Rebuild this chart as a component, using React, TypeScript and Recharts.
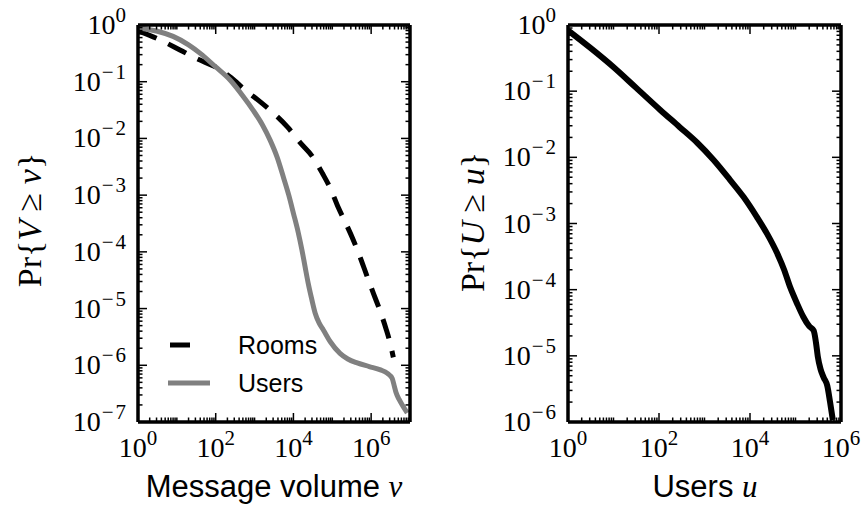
import React from 'react';
import { LineChart, Line, XAxis, YAxis } from 'recharts';

// Left panel: message volume CCDF
const roomsVolume = [1, 3.16, 12, 31.6, 110, 251, 575, 1259, 3020, 7080, 15100, 31600, 56200, 89100, 141000, 224000, 347000, 525000, 794000, 1.17e6, 1.74e6, 2.4e6, 3.09e6, 3.72e6];
const roomsProb = [0.79, 0.575, 0.363, 0.257, 0.174, 0.1175, 0.0708, 0.0468, 0.0282, 0.0158, 0.00832, 0.00468, 0.0024, 0.00132, 6.17e-4, 3.16e-4, 1.62e-4, 7.94e-5, 3.63e-5, 1.78e-5, 8.7e-6, 4.47e-6, 2.45e-6, 1.38e-6];

const usersVolume = [1, 3.16, 8, 20, 40, 100, 234, 500, 912, 1585, 2512, 3800, 5500, 7590, 10000, 13200, 16600, 20000, 24000, 29500, 36300, 45700, 58900, 89000, 158000, 251000, 437000, 891000, 1.74e6, 2.63e6, 3.47e6, 3.98e6, 4.37e6, 5.25e6, 6.6e6, 8.5e6];
const usersProb = [0.89, 0.776, 0.63, 0.447, 0.316, 0.182, 0.107, 0.056, 0.0316, 0.0174, 0.00933, 0.00468, 0.00209, 0.001, 4.79e-4, 2.24e-4, 1.07e-4, 5.4e-5, 2.8e-5, 1.48e-5, 8.3e-6, 5.6e-6, 4.2e-6, 2.6e-6, 1.62e-6, 1.29e-6, 1.1e-6, 9.5e-7, 8.3e-7, 7.2e-7, 5.9e-7, 4.2e-7, 3.3e-7, 2.5e-7, 1.9e-7, 1.45e-7];

// Right panel: users CCDF
const roomUsers = [1, 3.16, 9.8, 31.6, 105, 282, 692, 1585, 3630, 7240, 14100, 24000, 38900, 56200, 75900, 107000, 148000, 200000, 251000, 282000, 309000, 355000, 417000, 501000, 575000, 661000];
const roomUsersProb = [0.83, 0.447, 0.234, 0.112, 0.0525, 0.0288, 0.0166, 0.0091, 0.00457, 0.00251, 0.00126, 6.9e-4, 3.63e-4, 2.0e-4, 1.1e-4, 6.3e-5, 3.9e-5, 2.8e-5, 2.4e-5, 1.58e-5, 9.8e-6, 6.3e-6, 4.7e-6, 3.5e-6, 2.0e-6, 1.07e-6];

const zip = (xs: number[], ys: number[]) => xs.map((x, i) => ({ x, p: ys[i] }));
const roomsData = zip(roomsVolume, roomsProb);
const usersData = zip(usersVolume, usersProb);
const roomUsersData = zip(roomUsers, roomUsersProb);

// log ticks: 1..9 x 10^e for every decade in range
function logTicks(lo: number, hi: number) {
  const t: number[] = [];
  for (let e = lo; e < hi; e++) for (let s = 1; s < 10; s++) t.push(s * Math.pow(10, e));
  t.push(Math.pow(10, hi));
  return t;
}
const leftXTicks = logTicks(0, 7);
const leftYTicks = logTicks(-7, 0);
const rightXTicks = logTicks(0, 6);
const rightYTicks = logTicks(-6, 0);

const decadeOf = (v: number) => {
  const l = Math.log10(v);
  const r = Math.round(l);
  return Math.abs(l - r) < 1e-6 ? r : null;
};

const SERIF = '"Liberation Serif", "DejaVu Serif", serif';
const SANS = '"Liberation Sans", Arial, sans-serif';
const MAJ = 9;
const MIN = 4.5;
const TW = 1.5;

const Pow = ({ x, y, e, anchor }: any) => (
  <text x={x} y={y} textAnchor={anchor} fontFamily={SERIF} fontSize={28} fill="#000">
    <tspan>10</tspan>
    {e < 0 ? (
      <>
        <tspan dy={-12} dx={1} fontSize={21}>{'\u2212'}</tspan>
        <tspan dx={2} fontSize={21}>{Math.abs(e)}</tspan>
      </>
    ) : (
      <tspan dy={-12} fontSize={21}>{e}</tspan>
    )}
  </text>
);

const BottomTick = (props: any) => {
  const { x, y, payload, everyOther } = props;
  const d = decadeOf(payload.value);
  const major = d !== null && (!everyOther || d % 2 === 0);
  return (
    <g>
      <line x1={x} x2={x} y1={y} y2={y - (major ? MAJ : MIN)} stroke="#000" strokeWidth={TW} />
      {major && <Pow x={x} y={y + 35} e={d} anchor="middle" />}
    </g>
  );
};

const TopTick = (props: any) => {
  const { x, y, payload, everyOther } = props;
  const d = decadeOf(payload.value);
  const major = d !== null && (!everyOther || d % 2 === 0);
  return <line x1={x} x2={x} y1={y} y2={y + (major ? MAJ : MIN)} stroke="#000" strokeWidth={TW} />;
};

const LeftTick = (props: any) => {
  const { x, y, payload } = props;
  const d = decadeOf(payload.value);
  const major = d !== null;
  return (
    <g>
      <line x1={x} x2={x + (major ? MAJ : MIN)} y1={y} y2={y} stroke="#000" strokeWidth={TW} />
      {major && <Pow x={x - 12} y={y + 9} e={d} anchor="end" />}
    </g>
  );
};

const RightTick = (props: any) => {
  const { x, y, payload } = props;
  const major = decadeOf(payload.value) !== null;
  return <line x1={x} x2={x - (major ? MAJ : MIN)} y1={y} y2={y} stroke="#000" strokeWidth={TW} />;
};

const spine = { stroke: '#000', strokeWidth: 3.5 };

function Panel({ width, margin, xDomain, yDomain, xTicks, yTicks, everyOther, children }: any) {
  return (
    <LineChart width={width} height={514} margin={margin}>
      <XAxis xAxisId="b" dataKey="x" type="number" scale="log" domain={xDomain} allowDataOverflow
        ticks={xTicks} interval={0} tickSize={0} tickMargin={0} tickLine={false} height={40}
        axisLine={spine} tick={<BottomTick everyOther={everyOther} />} />
      <XAxis xAxisId="t" orientation="top" dataKey="x" type="number" scale="log" domain={xDomain} allowDataOverflow
        ticks={xTicks} interval={0} tickSize={0} tickMargin={0} tickLine={false} height={5}
        axisLine={spine} tick={<TopTick everyOther={everyOther} />} />
      <YAxis yAxisId="l" dataKey="p" type="number" scale="log" domain={yDomain} allowDataOverflow
        ticks={yTicks} interval={0} tickSize={0} tickMargin={0} tickLine={false} width={60}
        axisLine={spine} tick={<LeftTick />} />
      <YAxis yAxisId="r" orientation="right" dataKey="p" type="number" scale="log" domain={yDomain} allowDataOverflow
        ticks={yTicks} interval={0} tickSize={0} tickMargin={0} tickLine={false} width={5}
        axisLine={spine} tick={<RightTick />} />
      {children}
    </LineChart>
  );
}

const Math_ = ({ children }: any) => <span style={{ fontFamily: SERIF, fontStyle: 'italic' }}>{children}</span>;

export default function App() {
  return (
    <div style={{ position: 'absolute', left: 0, top: 0, width: 865, height: 514, background: '#fff', overflow: 'hidden' }}>
      <div style={{ position: 'absolute', left: 0, top: 0 }}>
        <Panel width={440} margin={{ top: 20, right: 25, bottom: 52, left: 78 }}
          xDomain={[1, 1e7]} yDomain={[1e-7, 1]} xTicks={leftXTicks} yTicks={leftYTicks} everyOther>
          <Line data={roomsData} xAxisId="b" yAxisId="l" dataKey="p" type="monotone" stroke="#000"
            strokeWidth={5} strokeDasharray="20 13" dot={false} isAnimationActive={false} />
          <Line data={usersData} xAxisId="b" yAxisId="l" dataKey="p" type="monotone" stroke="#808080"
            strokeWidth={5} dot={false} isAnimationActive={false} />
        </Panel>
      </div>
      <div style={{ position: 'absolute', left: 450, top: 0 }}>
        <Panel width={415} margin={{ top: 20, right: 19, bottom: 52, left: 58 }}
          xDomain={[1, 1e6]} yDomain={[1e-6, 1]} xTicks={rightXTicks} yTicks={rightYTicks} everyOther>
          <Line data={roomUsersData} xAxisId="b" yAxisId="l" dataKey="p" type="monotone" stroke="#000"
            strokeWidth={6} dot={false} isAnimationActive={false} />
        </Panel>
      </div>

      {/* legend */}
      <div style={{ position: 'absolute', left: 160, top: 326, fontFamily: SANS, fontSize: 25 }}>
        <div style={{ display: 'flex', alignItems: 'center', height: 38 }}>
          <svg width={70} height={10}><line x1={10} x2={30} y1={5} y2={5} stroke="#000" strokeWidth={5} /></svg>
          <span style={{ marginLeft: 8 }}>Rooms</span>
        </div>
        <div style={{ display: 'flex', alignItems: 'center', height: 38 }}>
          <svg width={70} height={10}><line x1={8} x2={50} y1={5} y2={5} stroke="#808080" strokeWidth={5} /></svg>
          <span style={{ marginLeft: 8 }}>Users</span>
        </div>
      </div>

      {/* x labels */}
      <div style={{ position: 'absolute', left: 74, width: 400, top: 469, textAlign: 'center', fontFamily: SANS, fontSize: 31 }}>
        Message volume <Math_>v</Math_>
      </div>
      <div style={{ position: 'absolute', left: 505, width: 400, top: 469, textAlign: 'center', fontFamily: SANS, fontSize: 31 }}>
        Users <Math_>u</Math_>
      </div>

      {/* y labels */}
      <div style={{ position: 'absolute', left: 30, top: 220, transform: 'translate(-50%, -50%) rotate(-90deg)', whiteSpace: 'nowrap', fontFamily: SERIF, fontSize: 34 }}>
        Pr{'{'}<Math_>V</Math_> &ge; <Math_>v</Math_>{'}'}
      </div>
      <div style={{ position: 'absolute', left: 473, top: 222, transform: 'translate(-50%, -50%) rotate(-90deg)', whiteSpace: 'nowrap', fontFamily: SERIF, fontSize: 34 }}>
        Pr{'{'}<Math_>U</Math_> &ge; <Math_>u</Math_>{'}'}
      </div>
    </div>
  );
}
